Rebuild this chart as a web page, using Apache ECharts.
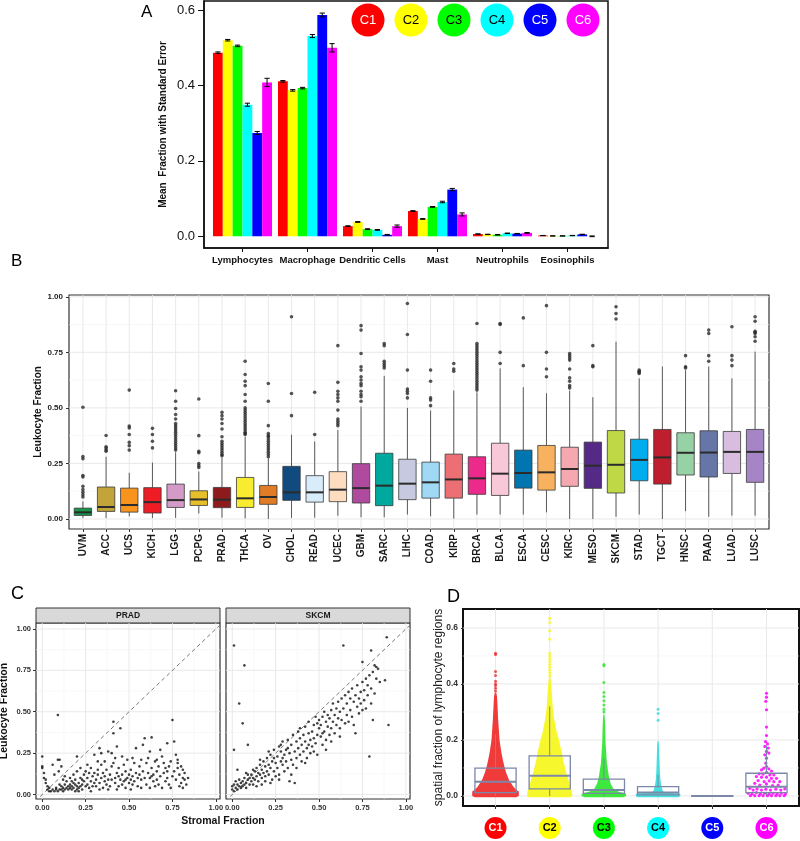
<!DOCTYPE html>
<html><head><meta charset="utf-8">
<script src="https://cdn.jsdelivr.net/npm/echarts@6/dist/echarts.min.js"></script>
<style>html,body{margin:0;padding:0;background:#fff}#c{width:800px;height:841px}</style>
</head><body><div id="c"></div><script>
// ================= DATA =================
// Panel A
const cellTypes = ['Lymphocytes','Macrophage','Dendritic Cells','Mast','Neutrophils','Eosinophils'];
const clusters = ['C1','C2','C3','C4','C5','C6'];
const clusterColors = ['#ff0000','#ffff00','#00ff00','#00ffff','#0000ff','#ff00ff'];
const clusterTextColors = ['#ffffff','#000000','#000000','#000000','#ffffff','#ffffff'];
const meanC1 = [0.487,0.411,0.027,0.067,0.006,0.002];
const meanC2 = [0.520,0.387,0.038,0.046,0.005,0.001];
const meanC3 = [0.505,0.393,0.019,0.078,0.004,0.001];
const meanC4 = [0.349,0.531,0.017,0.091,0.008,0.002];
const meanC5 = [0.274,0.587,0.004,0.124,0.007,0.005];
const meanC6 = [0.408,0.500,0.027,0.058,0.009,0.000];
const seC1 = [0.002,0.002,0.001,0.001,0.0005,0.0003];
const seC2 = [0.002,0.002,0.001,0.001,0.0005,0.0003];
const seC3 = [0.002,0.002,0.001,0.001,0.0005,0.0003];
const seC4 = [0.004,0.004,0.001,0.002,0.0006,0.0004];
const seC5 = [0.004,0.005,0.001,0.003,0.0006,0.0005];
const seC6 = [0.011,0.011,0.003,0.004,0.001,0.001];
const aTicks = [0,0.2,0.4,0.6];

// Panel B
const tumorTypes = ['UVM','ACC','UCS','KICH','LGG','PCPG','PRAD','THCA','OV','CHOL','READ','UCEC','GBM','SARC','LIHC','COAD','KIRP','BRCA','BLCA','ESCA','CESC','KIRC','MESO','SKCM','STAD','TGCT','HNSC','PAAD','LUAD','LUSC'];
const tumorColors = ['#15964a','#c3a43b','#f8931d','#ee1c25','#d59bc8','#e6bf2b','#8d1a1d','#f8ec31','#e07b26','#104a7e','#d8ecfa','#fddcc0','#b04a9e','#00a99d','#c7c9e0','#9fd9f6','#ec6f73','#ec2a8b','#f9c8d8','#0075b0','#f8b25f','#f6a8b0','#542a86','#bfd845','#00aeef','#be1e2d','#97d1a6','#6676a6','#d9bde0','#a585c6'];
const boxLow    = [0.005,0.004,0.012,0.004,0.005,0.025,0.006,0.003,0.0,0.005,0.006,0.015,0.008,0.008,0.02,0.012,0.002,0.02,0.02,0.02,0.03,0.0,0.0,0.01,0.02,0.0,0.035,0.01,0.015,0.015];
const boxQ1     = [0.016,0.034,0.031,0.027,0.052,0.061,0.051,0.052,0.066,0.084,0.076,0.078,0.072,0.06,0.087,0.094,0.094,0.111,0.106,0.139,0.13,0.147,0.138,0.117,0.172,0.157,0.198,0.189,0.205,0.165];
const boxMedian = [0.030,0.054,0.063,0.076,0.085,0.088,0.087,0.093,0.099,0.12,0.12,0.132,0.139,0.15,0.159,0.165,0.178,0.183,0.204,0.207,0.21,0.225,0.24,0.244,0.266,0.277,0.298,0.299,0.302,0.302];
const boxQ3     = [0.049,0.144,0.139,0.141,0.157,0.127,0.142,0.187,0.151,0.237,0.195,0.213,0.249,0.296,0.269,0.256,0.292,0.28,0.341,0.31,0.331,0.323,0.346,0.398,0.359,0.403,0.388,0.397,0.394,0.403];
const boxHigh   = [0.079,0.28,0.208,0.254,0.30,0.214,0.277,0.371,0.274,0.379,0.349,0.40,0.506,0.644,0.50,0.488,0.578,0.57,0.678,0.593,0.566,0.578,0.548,0.798,0.633,0.686,0.67,0.686,0.633,0.753];
const outliers = [
 [0.503,0.281,0.271,0.196,0.189,0.147,0.132,0.12,0.109,0.099],
 [0.376,0.325,0.319,0.311,0.305],
 [0.58,0.418,0.41,0.38,0.345,0.33,0.31],
 [0.408,0.38,0.35,0.32],
 [0.577,0.53,0.497,0.47,0.45,0.43,0.42,0.41,0.40,0.39,0.38,0.37,0.36,0.35,0.34,0.33,0.32,0.31],
 [0.54,0.375,0.305,0.298,0.25,0.24,0.232],
 [0.48,0.465,0.45,0.43,0.405,0.37,0.35,0.34,0.33,0.32,0.31,0.30,0.29,0.285],
 [0.71,0.65,0.62,0.60,0.56,0.53,0.50,0.49,0.48,0.47,0.46,0.45,0.44,0.43,0.42,0.41,0.40,0.39,0.385,0.38],
 [0.61,0.53,0.42,0.385,0.375,0.37,0.36,0.35,0.34,0.33,0.32,0.31,0.30,0.29,0.28],
 [0.91,0.565,0.465],
 [0.57,0.38],
 [0.78,0.615,0.575,0.56,0.545,0.53,0.49,0.45,0.44,0.43,0.42],
 [0.87,0.85,0.745,0.685,0.67,0.64,0.625,0.61,0.60,0.575,0.56,0.55,0.53],
 [0.79,0.78,0.71,0.70,0.69,0.68],
 [0.97,0.83,0.67,0.585,0.575,0.565,0.545],
 [0.67,0.62,0.545,0.535,0.51],
 [0.70,0.675,0.665],
 [0.88,0.79,0.78,0.77,0.76,0.75,0.74,0.73,0.72,0.71,0.70,0.69,0.68,0.67,0.66,0.65,0.64,0.63,0.62,0.61,0.60,0.59,0.58],
 [0.88,0.875,0.75,0.70],
 [0.905,0.69],
 [0.96,0.75,0.675,0.64],
 [0.745,0.735,0.725,0.715,0.675,0.635,0.62,0.60,0.59],
 [0.78,0.69,0.685],
 [0.955,0.925,0.90],
 [0.67,0.665,0.66,0.655],
 [],
 [0.735,0.685,0.68],
 [0.85,0.835,0.735,0.71],
 [0.865,0.735,0.715,0.69],
 [0.91,0.89,0.845,0.84,0.835,0.82,0.80]
];
const bTicks = [0,0.25,0.5,0.75,1];
const bMinor = [0.125,0.375,0.625,0.875];

// Panel C  [stromal fraction, leukocyte fraction]
const facetNames = ['PRAD','SKCM'];
const pradPoints = [
 [0.00,0.23],[0.00,0.17],[0.00,0.16],[0.01,0.13],[0.01,0.10],[0.02,0.09],[0.02,0.07],[0.03,0.05],[0.03,0.03],[0.04,0.02],[0.05,0.02],[0.04,0.04],
 [0.06,0.18],[0.07,0.12],[0.06,0.03],[0.07,0.02],[0.08,0.03],[0.09,0.21],[0.09,0.48],[0.10,0.21],[0.08,0.04],[0.09,0.02],[0.10,0.03],[0.10,0.06],[0.095,0.14],
 [0.11,0.03],[0.11,0.05],[0.12,0.04],[0.12,0.02],[0.13,0.03],[0.13,0.06],[0.14,0.04],[0.14,0.08],[0.12,0.09],[0.11,0.17],[0.15,0.05],[0.15,0.03],[0.13,0.11],
 [0.16,0.04],[0.16,0.06],[0.17,0.03],[0.17,0.05],[0.18,0.07],[0.18,0.04],[0.19,0.02],[0.19,0.09],[0.20,0.05],[0.20,0.03],[0.16,0.10],[0.18,0.12],[0.20,0.14],[0.17,0.08],[0.19,0.06],
 [0.21,0.04],[0.21,0.07],[0.22,0.05],[0.22,0.10],[0.23,0.03],[0.23,0.06],[0.24,0.08],[0.24,0.12],[0.25,0.05],[0.22,0.16],[0.20,0.23],[0.23,0.09],[0.25,0.14],[0.21,0.02],
 [0.26,0.06],[0.26,0.10],[0.27,0.04],[0.27,0.13],[0.28,0.08],[0.28,0.16],[0.29,0.05],[0.29,0.11],[0.30,0.07],[0.30,0.24],[0.26,0.18],[0.28,0.02],[0.30,0.13],
 [0.31,0.09],[0.31,0.05],[0.32,0.12],[0.32,0.15],[0.33,0.28],[0.33,0.07],[0.34,0.10],[0.34,0.18],[0.35,0.04],[0.35,0.13],[0.33,0.03],[0.32,0.20],[0.34,0.25],
 [0.36,0.08],[0.36,0.11],[0.37,0.06],[0.37,0.15],[0.38,0.09],[0.38,0.26],[0.39,0.12],[0.39,0.05],[0.40,0.17],[0.40,0.25],[0.36,0.20],[0.38,0.03],[0.40,0.09],
 [0.41,0.44],[0.41,0.37],[0.42,0.10],[0.42,0.07],[0.43,0.13],[0.43,0.29],[0.44,0.05],[0.44,0.16],[0.45,0.40],[0.45,0.09],[0.41,0.19],[0.42,0.22],[0.44,0.11],[0.43,0.03],
 [0.46,0.12],[0.46,0.06],[0.47,0.08],[0.47,0.18],[0.48,0.14],[0.48,0.04],[0.49,0.10],[0.49,0.21],[0.50,0.07],[0.50,0.12],[0.46,0.23],[0.48,0.09],
 [0.51,0.09],[0.51,0.15],[0.52,0.06],[0.52,0.11],[0.53,0.19],[0.53,0.08],[0.54,0.28],[0.54,0.13],[0.55,0.05],[0.55,0.10],[0.52,0.22],[0.51,0.03],
 [0.56,0.17],[0.56,0.12],[0.57,0.09],[0.57,0.21],[0.58,0.30],[0.58,0.14],[0.59,0.34],[0.59,0.10],[0.60,0.19],[0.60,0.06],[0.57,0.04],
 [0.61,0.13],[0.61,0.22],[0.62,0.10],[0.62,0.26],[0.63,0.345],[0.63,0.16],[0.64,0.08],[0.64,0.12],[0.65,0.20],[0.65,0.05],[0.62,0.04],[0.63,0.11],
 [0.66,0.14],[0.66,0.09],[0.67,0.17],[0.67,0.06],[0.68,0.27],[0.68,0.11],[0.69,0.23],[0.69,0.04],[0.70,0.13],[0.70,0.19],[0.66,0.21],
 [0.71,0.08],[0.71,0.16],[0.72,0.31],[0.72,0.10],[0.73,0.17],[0.73,0.06],[0.74,0.20],[0.74,0.04],[0.75,0.45],[0.75,0.11],[0.72,0.14],
 [0.76,0.32],[0.76,0.14],[0.77,0.24],[0.77,0.09],[0.78,0.19],[0.78,0.16],[0.79,0.05],[0.79,0.12],[0.80,0.17],[0.80,0.07],[0.78,0.21],
 [0.81,0.15],[0.81,0.10],[0.82,0.13],[0.82,0.09],[0.83,0.06],[0.84,0.10],[0.81,0.04]
];
const skcmPoints = [
 [0.00,0.03],[0.00,0.05],[0.01,0.02],[0.01,0.06],[0.02,0.04],[0.02,0.08],[0.03,0.03],[0.03,0.06],[0.04,0.05],[0.04,0.09],[0.05,0.04],[0.05,0.07],[0.03,0.15],[0.01,0.27],[0.01,0.90],[0.04,0.55],
 [0.06,0.05],[0.06,0.08],[0.07,0.06],[0.07,0.10],[0.08,0.07],[0.08,0.04],[0.09,0.09],[0.09,0.12],[0.10,0.06],[0.10,0.10],[0.07,0.78],[0.06,0.43],[0.09,0.30],[0.08,0.13],
 [0.11,0.08],[0.11,0.12],[0.12,0.10],[0.12,0.06],[0.13,0.14],[0.13,0.09],[0.14,0.11],[0.14,0.16],[0.15,0.13],[0.15,0.08],[0.12,0.15],[0.14,0.05],
 [0.16,0.12],[0.16,0.18],[0.17,0.10],[0.17,0.15],[0.18,0.20],[0.18,0.13],[0.19,0.17],[0.19,0.08],[0.20,0.22],[0.20,0.14],[0.17,0.06],[0.19,0.11],[0.16,0.21],
 [0.21,0.18],[0.21,0.12],[0.22,0.24],[0.22,0.16],[0.23,0.09],[0.23,0.20],[0.24,0.27],[0.24,0.14],[0.25,0.19],[0.25,0.11],[0.22,0.07],[0.24,0.22],[0.21,0.26],
 [0.26,0.23],[0.26,0.16],[0.27,0.29],[0.27,0.12],[0.28,0.20],[0.28,0.26],[0.29,0.18],[0.29,0.32],[0.30,0.24],[0.30,0.14],[0.27,0.09],[0.29,0.22],[0.28,0.30],
 [0.31,0.27],[0.31,0.20],[0.32,0.33],[0.32,0.16],[0.33,0.08],[0.33,0.25],[0.34,0.30],[0.34,0.21],[0.35,0.36],[0.35,0.18],[0.32,0.28],[0.34,0.12],
 [0.36,0.07],[0.36,0.26],[0.37,0.32],[0.37,0.22],[0.38,0.28],[0.38,0.38],[0.39,0.24],[0.39,0.34],[0.40,0.30],[0.40,0.20],[0.37,0.16],[0.39,0.40],
 [0.41,0.36],[0.41,0.26],[0.42,0.32],[0.42,0.41],[0.43,0.28],[0.43,0.22],[0.44,0.37],[0.44,0.44],[0.45,0.33],[0.45,0.25],[0.42,0.19],[0.44,0.30],
 [0.46,0.38],[0.46,0.29],[0.47,0.42],[0.47,0.34],[0.48,0.47],[0.48,0.31],[0.49,0.36],[0.49,0.24],[0.50,0.40],[0.50,0.45],[0.47,0.26],[0.49,0.43],
 [0.51,0.35],[0.51,0.42],[0.52,0.47],[0.52,0.30],[0.53,0.38],[0.53,0.50],[0.54,0.44],[0.54,0.33],[0.55,0.41],[0.55,0.48],[0.52,0.37],[0.54,0.27],
 [0.56,0.36],[0.56,0.46],[0.57,0.51],[0.57,0.40],[0.58,0.44],[0.58,0.55],[0.59,0.37],[0.59,0.48],[0.60,0.52],[0.60,0.42],[0.57,0.32],
 [0.61,0.46],[0.61,0.56],[0.62,0.50],[0.62,0.40],[0.63,0.58],[0.63,0.45],[0.64,0.90],[0.64,0.52],[0.65,0.43],[0.65,0.60],[0.62,0.35],
 [0.66,0.55],[0.66,0.48],[0.67,0.62],[0.67,0.44],[0.68,0.58],[0.68,0.51],[0.69,0.64],[0.69,0.47],[0.70,0.56],[0.70,0.42],[0.71,0.37],
 [0.71,0.60],[0.72,0.66],[0.72,0.53],[0.73,0.58],[0.73,0.49],[0.74,0.62],[0.74,0.55],[0.75,0.80],[0.75,0.68],[0.75,0.51],
 [0.76,0.63],[0.76,0.57],[0.77,0.70],[0.77,0.52],[0.78,0.66],[0.78,0.60],[0.79,0.23],[0.79,0.72],[0.80,0.87],[0.80,0.64],[0.80,0.55],
 [0.81,0.45],[0.81,0.74],[0.82,0.61],[0.82,0.78],[0.83,0.77],[0.84,0.76],[0.85,0.68],[0.88,0.69],[0.89,0.95],[0.90,0.42],[0.83,0.70]
];
const cTicks = [0,0.25,0.5,0.75,1];
const cMinor = [0.125,0.375,0.625,0.875];

// Panel D
const swarmColors = ['#ef2a2a','#f6f61c','#2ee62e','#35dcdc','#0000ff','#ff00ff'];
const dBoxLow    = [0,0,0,0,0,0];
const dBoxQ1     = [0.012,0.025,0.009,0.004,0.0,0.012];
const dBoxMedian = [0.051,0.072,0.021,0.012,0.0,0.033];
const dBoxQ3     = [0.099,0.143,0.060,0.033,0.0005,0.081];
const dBoxHigh   = [0.22,0.32,0.135,0.075,0.001,0.18];
// swarm outline: [fraction, half width in category units]
const swarmC1 = [[-0.005,0.38],[0,0.43],[0.016,0.43],[0.022,0.38],[0.033,0.33],[0.057,0.25],[0.081,0.2],[0.105,0.163],[0.129,0.135],[0.153,0.11],[0.177,0.092],[0.2,0.074],[0.236,0.062],[0.272,0.049],[0.32,0.037],[0.355,0.028],[0.37,0.012]];
const swarmC2 = [[-0.005,0.38],[0,0.42],[0.016,0.41],[0.033,0.376],[0.057,0.348],[0.081,0.308],[0.105,0.277],[0.129,0.246],[0.153,0.228],[0.177,0.197],[0.2,0.172],[0.224,0.135],[0.248,0.11],[0.272,0.086],[0.296,0.068],[0.32,0.055],[0.355,0.043],[0.39,0.031],[0.415,0.02],[0.427,0.01]];
const swarmC3 = [[-0.005,0.36],[0,0.41],[0.008,0.41],[0.0155,0.26],[0.027,0.17],[0.045,0.123],[0.069,0.092],[0.093,0.074],[0.117,0.055],[0.153,0.043],[0.188,0.031],[0.236,0.025],[0.272,0.018],[0.29,0.01]];
const swarmC4 = [[-0.005,0.38],[0,0.41],[0.008,0.41],[0.012,0.15],[0.0155,0.092],[0.033,0.062],[0.057,0.043],[0.093,0.031],[0.129,0.025],[0.177,0.018],[0.195,0.01]];
const swarmProfiles = [swarmC1, swarmC2, swarmC3, swarmC4, [], []];
const tailC1 = [0.51,0.505,0.445,0.43,0.41,0.40,0.395,0.385,0.375];
const tailC2 = [0.635,0.62,0.59,0.56,0.51,0.50,0.49,0.48,0.47,0.46,0.45,0.44,0.43];
const tailC3 = [0.47,0.465,0.405,0.37,0.355,0.34,0.325,0.31,0.30];
const tailC4 = [0.31,0.295,0.27];
// C6 individual points: [offset from centre (category units), fraction]
const pointsC6 = [[0,0.367],[0,0.353],[-0.012,0.338],[0,0.308],[0,0.246],[0,0.216],[-0.018,0.194],[0.018,0.186],[-0.031,0.177],[0.031,0.171],[0,0.159],[-0.031,0.147],[0.043,0.153],[0,0.135],[-0.012,0.117],[0,0.105],[-0.049,0.099],[0.043,0.097],[-0.092,0.093],[0.092,0.089],[0,0.084],[-0.136,0.079],[-0.062,0.078],[0.062,0.075],[0.136,0.075],[-0.185,0.069],[-0.092,0.067],[0,0.067],[0.092,0.063],[0.185,0.063],[-0.154,0.055],[-0.043,0.051],[0.049,0.054],[0.136,0.051],[0.246,0.051],[-0.216,0.045],[-0.123,0.039],[0,0.043],[0.111,0.037],[0.216,0.039],[-0.308,0.027],[-0.246,0.021],[-0.173,0.025],[-0.092,0.021],[-0.012,0.024],[0.074,0.021],[0.173,0.024],[0.265,0.021],[0.339,0.025],[-0.339,0.0095],[-0.265,0.007],[-0.185,0.012],[-0.111,0.007],[-0.031,0.0095],[0.049,0.007],[0.123,0.0095],[0.197,0.007],[0.277,0.0095],[0.351,0.007],[-0.296,0.001],[-0.216,0.001],[-0.136,0.001],[-0.062,0.001],[0.018,0.001],[0.092,0.001],[0.173,0.001],[0.246,0.001],[0.327,0.001]];
const dTicks = [0,0.2,0.4,0.6];
const dMinor = [0.1,0.3,0.5];

// ================= CHART =================
const FONT = '"Liberation Sans", Arial, Helvetica, sans-serif';
const chart = echarts.init(document.getElementById('c'), null, {renderer:'canvas', width:800, height:841});
const idx = arr => arr.map((_, i) => i);

function gridLines(ai, xs, ys, style) {
  const data = xs.map(v => [v, 0, 0]).concat(ys.map(v => [0, v, 1]));
  return {type:'custom', xAxisIndex:ai, yAxisIndex:ai, silent:true, z:1, data,
    renderItem(params, api) {
      const cs = params.coordSys;
      if (api.value(2) === 0) {
        const x = api.coord([api.value(0), 0])[0];
        return {type:'line', shape:{x1:x, y1:cs.y, x2:x, y2:cs.y + cs.height}, style};
      }
      const y = api.coord([0, api.value(1)])[1];
      return {type:'line', shape:{x1:cs.x, y1:y, x2:cs.x + cs.width, y2:y}, style};
    }};
}

// A: bars with error bars
const aMeans = [meanC1, meanC2, meanC3, meanC4, meanC5, meanC6];
const aSes = [seC1, seC2, seC3, seC4, seC5, seC6];
const barSeries = clusters.map((cl, j) => ({
  type:'custom', name:cl, xAxisIndex:0, yAxisIndex:0, z:3,
  data: cellTypes.map((_, i) => [i, aMeans[j][i], aSes[j][i]]),
  renderItem(params, api) {
    const cat = api.value(0), m = api.value(1), se = api.value(2);
    const gw = 0.908, bw = gw / 6;
    const x0 = cat - gw / 2 + j * bw;
    const p0 = api.coord([x0, 0]), p1 = api.coord([x0 + bw, m]);
    const cx = api.coord([x0 + bw / 2, 0])[0];
    const yl = api.coord([0, m - se])[1], yh = api.coord([0, m + se])[1];
    const cap = 2.6;
    const st = {stroke:'#000', lineWidth:1};
    return {type:'group', children:[
      {type:'rect', shape:{x:p0[0], y:Math.min(p0[1], p1[1]), width:p1[0] - p0[0], height:Math.abs(p1[1] - p0[1])}, style:{fill:clusterColors[j]}},
      {type:'line', shape:{x1:cx, y1:yl, x2:cx, y2:yh}, style:st},
      {type:'line', shape:{x1:cx - cap, y1:yl, x2:cx + cap, y2:yl}, style:st},
      {type:'line', shape:{x1:cx - cap, y1:yh, x2:cx + cap, y2:yh}, style:st}
    ]};
  }
}));

// B boxplots
const bBoxSeries = {
  type:'custom', xAxisIndex:1, yAxisIndex:1, z:3,
  data: tumorTypes.map((t, i) => [i, boxLow[i], boxQ1[i], boxMedian[i], boxQ3[i], boxHigh[i]]),
  renderItem(params, api) {
    const i = api.value(0);
    const lo = api.value(1), q1 = api.value(2), md = api.value(3), q3 = api.value(4), hi = api.value(5);
    const hw = 0.375;
    const xl = api.coord([i - hw, 0])[0], xr = api.coord([i + hw, 0])[0], xc = api.coord([i, 0])[0];
    const y = v => api.coord([i, v])[1];
    return {type:'group', children:[
      {type:'line', shape:{x1:xc, y1:y(lo), x2:xc, y2:y(q1)}, style:{stroke:'#5a5a5a', lineWidth:1}},
      {type:'line', shape:{x1:xc, y1:y(q3), x2:xc, y2:y(hi)}, style:{stroke:'#5a5a5a', lineWidth:1}},
      {type:'rect', shape:{x:xl, y:y(q3), width:xr - xl, height:y(q1) - y(q3)}, style:{fill:tumorColors[i], stroke:'#3a3a3a', lineWidth:0.8}},
      {type:'line', shape:{x1:xl, y1:y(md), x2:xr, y2:y(md)}, style:{stroke:'#2b2b2b', lineWidth:2}}
    ]};
  }
};
const bOutData = [];
outliers.forEach((arr, i) => arr.forEach(v => bOutData.push([i, v])));

// D
const dBoxSeries = {
  type:'custom', xAxisIndex:4, yAxisIndex:4, z:5,
  data: clusters.map((c, i) => [i, dBoxLow[i], dBoxQ1[i], dBoxMedian[i], dBoxQ3[i], dBoxHigh[i]]),
  renderItem(params, api) {
    const i = api.value(0);
    const lo = api.value(1), q1 = api.value(2), md = api.value(3), q3 = api.value(4), hi = api.value(5);
    const hw = 0.38;
    const xl = api.coord([i - hw, 0])[0], xr = api.coord([i + hw, 0])[0], xc = api.coord([i, 0])[0];
    const y = v => api.coord([i, v])[1];
    const st = {stroke:'#7b88a8', lineWidth:1.3, fill:null};
    return {type:'group', children:[
      {type:'line', shape:{x1:xc, y1:y(lo), x2:xc, y2:y(q1)}, style:{stroke:'#7b88a8', lineWidth:1}},
      {type:'line', shape:{x1:xc, y1:y(q3), x2:xc, y2:y(hi)}, style:{stroke:'#7b88a8', lineWidth:1}},
      {type:'rect', shape:{x:xl, y:y(q3), width:xr - xl, height:Math.max(0.5, y(q1) - y(q3))}, style:st},
      {type:'line', shape:{x1:xl, y1:y(md), x2:xr, y2:y(md)}, style:{stroke:'#7b88a8', lineWidth:2}}
    ]};
  }
};
const swarmSeries = {
  type:'custom', xAxisIndex:4, yAxisIndex:4, z:3,
  data: [[0,0],[1,0],[2,0],[3,0]],
  renderItem(params, api) {
    const i = api.value(0); const prof = swarmProfiles[i];
    const right = prof.map(p => api.coord([i + p[1], p[0]]));
    const left = prof.slice().reverse().map(p => api.coord([i - p[1], p[0]]));
    return {type:'polygon', shape:{points:right.concat(left)}, style:{fill:swarmColors[i], opacity:0.92}};
  }
};
const tailData = [];
[tailC1, tailC2, tailC3, tailC4].forEach((arr, i) => arr.forEach(v => tailData.push([i, v])));
const c6Data = pointsC6.map(p => [5 + p[0], p[1]]);

// axes
const tickStyle = {color:'#333', width:1};
const xAxes = [
  {gridIndex:0, type:'value', min:-0.592, max:5.623,
   axisLine:{show:true, onZero:false, lineStyle:{color:'#111', width:1.5}},
   axisTick:{show:true, customValues:idx(cellTypes), length:4, lineStyle:{color:'#111'}},
   axisLabel:{customValues:idx(cellTypes), formatter:v => cellTypes[Math.round(v)], fontWeight:'bold', fontSize:9.5, color:'#111', margin:7},
   splitLine:{show:false}},
  {gridIndex:1, type:'value', min:-0.6, max:29.6,
   axisLine:{show:false, onZero:false},
   axisTick:{show:true, customValues:idx(tumorTypes), length:3, lineStyle:tickStyle},
   axisLabel:{customValues:idx(tumorTypes), formatter:v => tumorTypes[Math.round(v)], rotate:90, fontWeight:'bold', fontSize:10, color:'#1a1a1a', margin:5},
   splitLine:{show:false}},
  {gridIndex:2, type:'value', min:-0.036, max:1.024,
   axisLine:{show:false, onZero:false},
   axisTick:{show:true, customValues:cTicks, length:3, lineStyle:tickStyle},
   axisLabel:{customValues:cTicks, formatter:v => v.toFixed(2), fontWeight:'bold', fontSize:7.5, color:'#333', margin:5},
   splitLine:{show:false}},
  {gridIndex:3, type:'value', min:-0.036, max:1.024,
   axisLine:{show:false, onZero:false},
   axisTick:{show:true, customValues:cTicks, length:3, lineStyle:tickStyle},
   axisLabel:{customValues:cTicks, formatter:v => v.toFixed(2), fontWeight:'bold', fontSize:7.5, color:'#333', margin:5},
   splitLine:{show:false}},
  {gridIndex:4, type:'value', min:-0.6, max:5.6,
   axisLine:{show:false, onZero:false},
   axisTick:{show:true, customValues:idx(clusters), length:3, lineStyle:tickStyle},
   axisLabel:{customValues:idx(clusters), margin:11,
     formatter:v => '{c' + Math.round(v) + '|' + clusters[Math.round(v)] + '}',
     rich: Object.fromEntries(clusters.map((c, i) => ['c' + i, {backgroundColor:clusterColors[i], color:clusterTextColors[i], width:22, height:22, lineHeight:22, borderRadius:11, align:'center', fontWeight:'bold', fontSize:11, fontFamily:FONT}]))},
   splitLine:{show:false}}
];
const yAxes = [
  {gridIndex:0, type:'value', min:-0.031, max:0.624,
   name:'Mean  Fraction with Standard Error', nameLocation:'middle', nameGap:36, nameMoveOverlap:false,
   nameTextStyle:{fontWeight:'bold', fontSize:10, color:'#111', fontFamily:FONT},
   axisLine:{show:true, onZero:false, lineStyle:{color:'#111', width:1.5}},
   axisTick:{show:true, customValues:aTicks, length:6, lineStyle:{color:'#111'}},
   axisLabel:{customValues:aTicks, formatter:v => v.toFixed(1), fontSize:13, color:'#111', margin:9},
   splitLine:{show:false}},
  {gridIndex:1, type:'value', min:-0.045, max:1.008,
   name:'Leukocyte Fraction', nameLocation:'middle', nameGap:26, nameMoveOverlap:false,
   nameTextStyle:{fontWeight:'bold', fontSize:10, color:'#111', fontFamily:FONT},
   axisLine:{show:false, onZero:false},
   axisTick:{show:true, customValues:bTicks, length:3, lineStyle:tickStyle},
   axisLabel:{customValues:bTicks, formatter:v => v.toFixed(2), fontWeight:'bold', fontSize:8, color:'#222', margin:6},
   splitLine:{show:false}},
  {gridIndex:2, type:'value', min:-0.027, max:1.036,
   name:'Leukocyte Fraction', nameLocation:'middle', nameGap:26, nameMoveOverlap:false,
   nameTextStyle:{fontWeight:'bold', fontSize:10.5, color:'#111', fontFamily:FONT},
   axisLine:{show:false, onZero:false},
   axisTick:{show:true, customValues:cTicks, length:3, lineStyle:tickStyle},
   axisLabel:{customValues:cTicks, formatter:v => v.toFixed(2), fontWeight:'bold', fontSize:7.5, color:'#333', margin:5},
   splitLine:{show:false}},
  {gridIndex:3, type:'value', min:-0.027, max:1.036,
   axisLine:{show:false, onZero:false}, axisTick:{show:false}, axisLabel:{show:false}, splitLine:{show:false}},
  {gridIndex:4, type:'value', min:-0.036, max:0.668,
   name:'spatial fraction of lymphocyte regions', nameLocation:'middle', nameGap:18, nameMoveOverlap:false,
   nameTextStyle:{fontSize:12, color:'#222', fontFamily:FONT},
   axisLine:{show:false, onZero:false},
   axisTick:{show:true, customValues:dTicks, length:2, lineStyle:tickStyle},
   axisLabel:{customValues:dTicks, formatter:v => v.toFixed(1), fontWeight:'bold', fontSize:8.5, color:'#333', margin:5},
   splitLine:{show:false}}
];

const majorStyle = {stroke:'#e6e6e6', lineWidth:0.9};
const minorStyle = {stroke:'#f3f3f3', lineWidth:0.6};

const graphics = [
  {type:'text', x:141, y:4, style:{text:'A', fontSize:17, fontFamily:FONT, fill:'#000'}},
  {type:'text', x:11, y:253, style:{text:'B', fontSize:17, fontFamily:FONT, fill:'#000'}},
  {type:'text', x:11, y:585, style:{text:'C', fontSize:18, fontFamily:FONT, fill:'#000'}},
  {type:'text', x:447, y:588, style:{text:'D', fontSize:18, fontFamily:FONT, fill:'#000'}},
  // facet strips
  {type:'rect', shape:{x:36, y:608, width:184, height:15}, style:{fill:'#d9d9d9', stroke:'#333', lineWidth:1}},
  {type:'rect', shape:{x:226, y:608, width:184, height:15}, style:{fill:'#d9d9d9', stroke:'#333', lineWidth:1}},
  {type:'text', x:128, y:615.5, style:{text:facetNames[0], fontSize:8.5, fontWeight:'bold', fontFamily:FONT, fill:'#1a1a1a', align:'center', verticalAlign:'middle'}},
  {type:'text', x:318, y:615.5, style:{text:facetNames[1], fontSize:8.5, fontWeight:'bold', fontFamily:FONT, fill:'#1a1a1a', align:'center', verticalAlign:'middle'}},
  {type:'text', x:223, y:821, style:{text:'Stromal Fraction', fontSize:10.5, fontWeight:'bold', fontFamily:FONT, fill:'#111', align:'center', verticalAlign:'middle'}}
];
clusters.forEach((c, i) => {
  graphics.push({type:'circle', shape:{cx:368 + 43 * i, cy:20, r:16.5}, style:{fill:clusterColors[i]}});
  graphics.push({type:'text', x:368 + 43 * i, y:20.5, style:{text:c, fontSize:13, fontFamily:FONT, fill:clusterTextColors[i], align:'center', verticalAlign:'middle'}});
});

const option = {
  animation:false,
  backgroundColor:'#fff',
  textStyle:{fontFamily:FONT},
  grid:[
    {left:204, top:1, width:404, height:247, show:true, borderColor:'#111', borderWidth:1.5, containLabel:false, outerBoundsMode:'none'},
    {left:69, top:295, width:700, height:234, show:true, borderColor:'#333', borderWidth:1.2, containLabel:false, outerBoundsMode:'none'},
    {left:36, top:623, width:184, height:176, show:true, borderColor:'#333', borderWidth:1.2, containLabel:false, outerBoundsMode:'none'},
    {left:226, top:623, width:184, height:176, show:true, borderColor:'#333', borderWidth:1.2, containLabel:false, outerBoundsMode:'none'},
    {left:463, top:609, width:336, height:197, show:true, borderColor:'#111', borderWidth:2, containLabel:false, outerBoundsMode:'none'}
  ],
  xAxis:xAxes,
  yAxis:yAxes,
  graphic:graphics,
  series:[
    ...barSeries,
    gridLines(1, [], bMinor, minorStyle),
    gridLines(1, idx(tumorTypes), bTicks, majorStyle),
    bBoxSeries,
    {type:'scatter', xAxisIndex:1, yAxisIndex:1, z:4, data:bOutData, symbolSize:3.6, itemStyle:{color:'#2a2a2a'}, silent:true},
    gridLines(2, cMinor, cMinor, minorStyle),
    gridLines(2, cTicks, cTicks, majorStyle),
    gridLines(3, cMinor, cMinor, minorStyle),
    gridLines(3, cTicks, cTicks, majorStyle),
    {type:'line', xAxisIndex:2, yAxisIndex:2, z:2, data:[[-0.1,-0.1],[1.1,1.1]], showSymbol:false, symbol:'none', clip:true, lineStyle:{type:[4,3], color:'#7a7a7a', width:1}, silent:true},
    {type:'line', xAxisIndex:3, yAxisIndex:3, z:2, data:[[-0.1,-0.1],[1.1,1.1]], showSymbol:false, symbol:'none', clip:true, lineStyle:{type:[4,3], color:'#7a7a7a', width:1}, silent:true},
    {type:'scatter', xAxisIndex:2, yAxisIndex:2, z:3, data:pradPoints, symbolSize:2.6, itemStyle:{color:'#111'}, silent:true},
    {type:'scatter', xAxisIndex:3, yAxisIndex:3, z:3, data:skcmPoints, symbolSize:2.6, itemStyle:{color:'#111'}, silent:true},
    gridLines(4, [], dMinor, minorStyle),
    gridLines(4, idx(clusters), dTicks, majorStyle),
    swarmSeries,
    {type:'scatter', xAxisIndex:4, yAxisIndex:4, z:4, data:tailData, symbolSize:3, itemStyle:{color:p => swarmColors[p.value[0]]}, silent:true},
    {type:'scatter', xAxisIndex:4, yAxisIndex:4, z:4, data:c6Data, symbolSize:3.2, itemStyle:{color:'#ff00ff', opacity:0.85}, silent:true},
    dBoxSeries
  ]
};
chart.setOption(option);
</script></body></html>
